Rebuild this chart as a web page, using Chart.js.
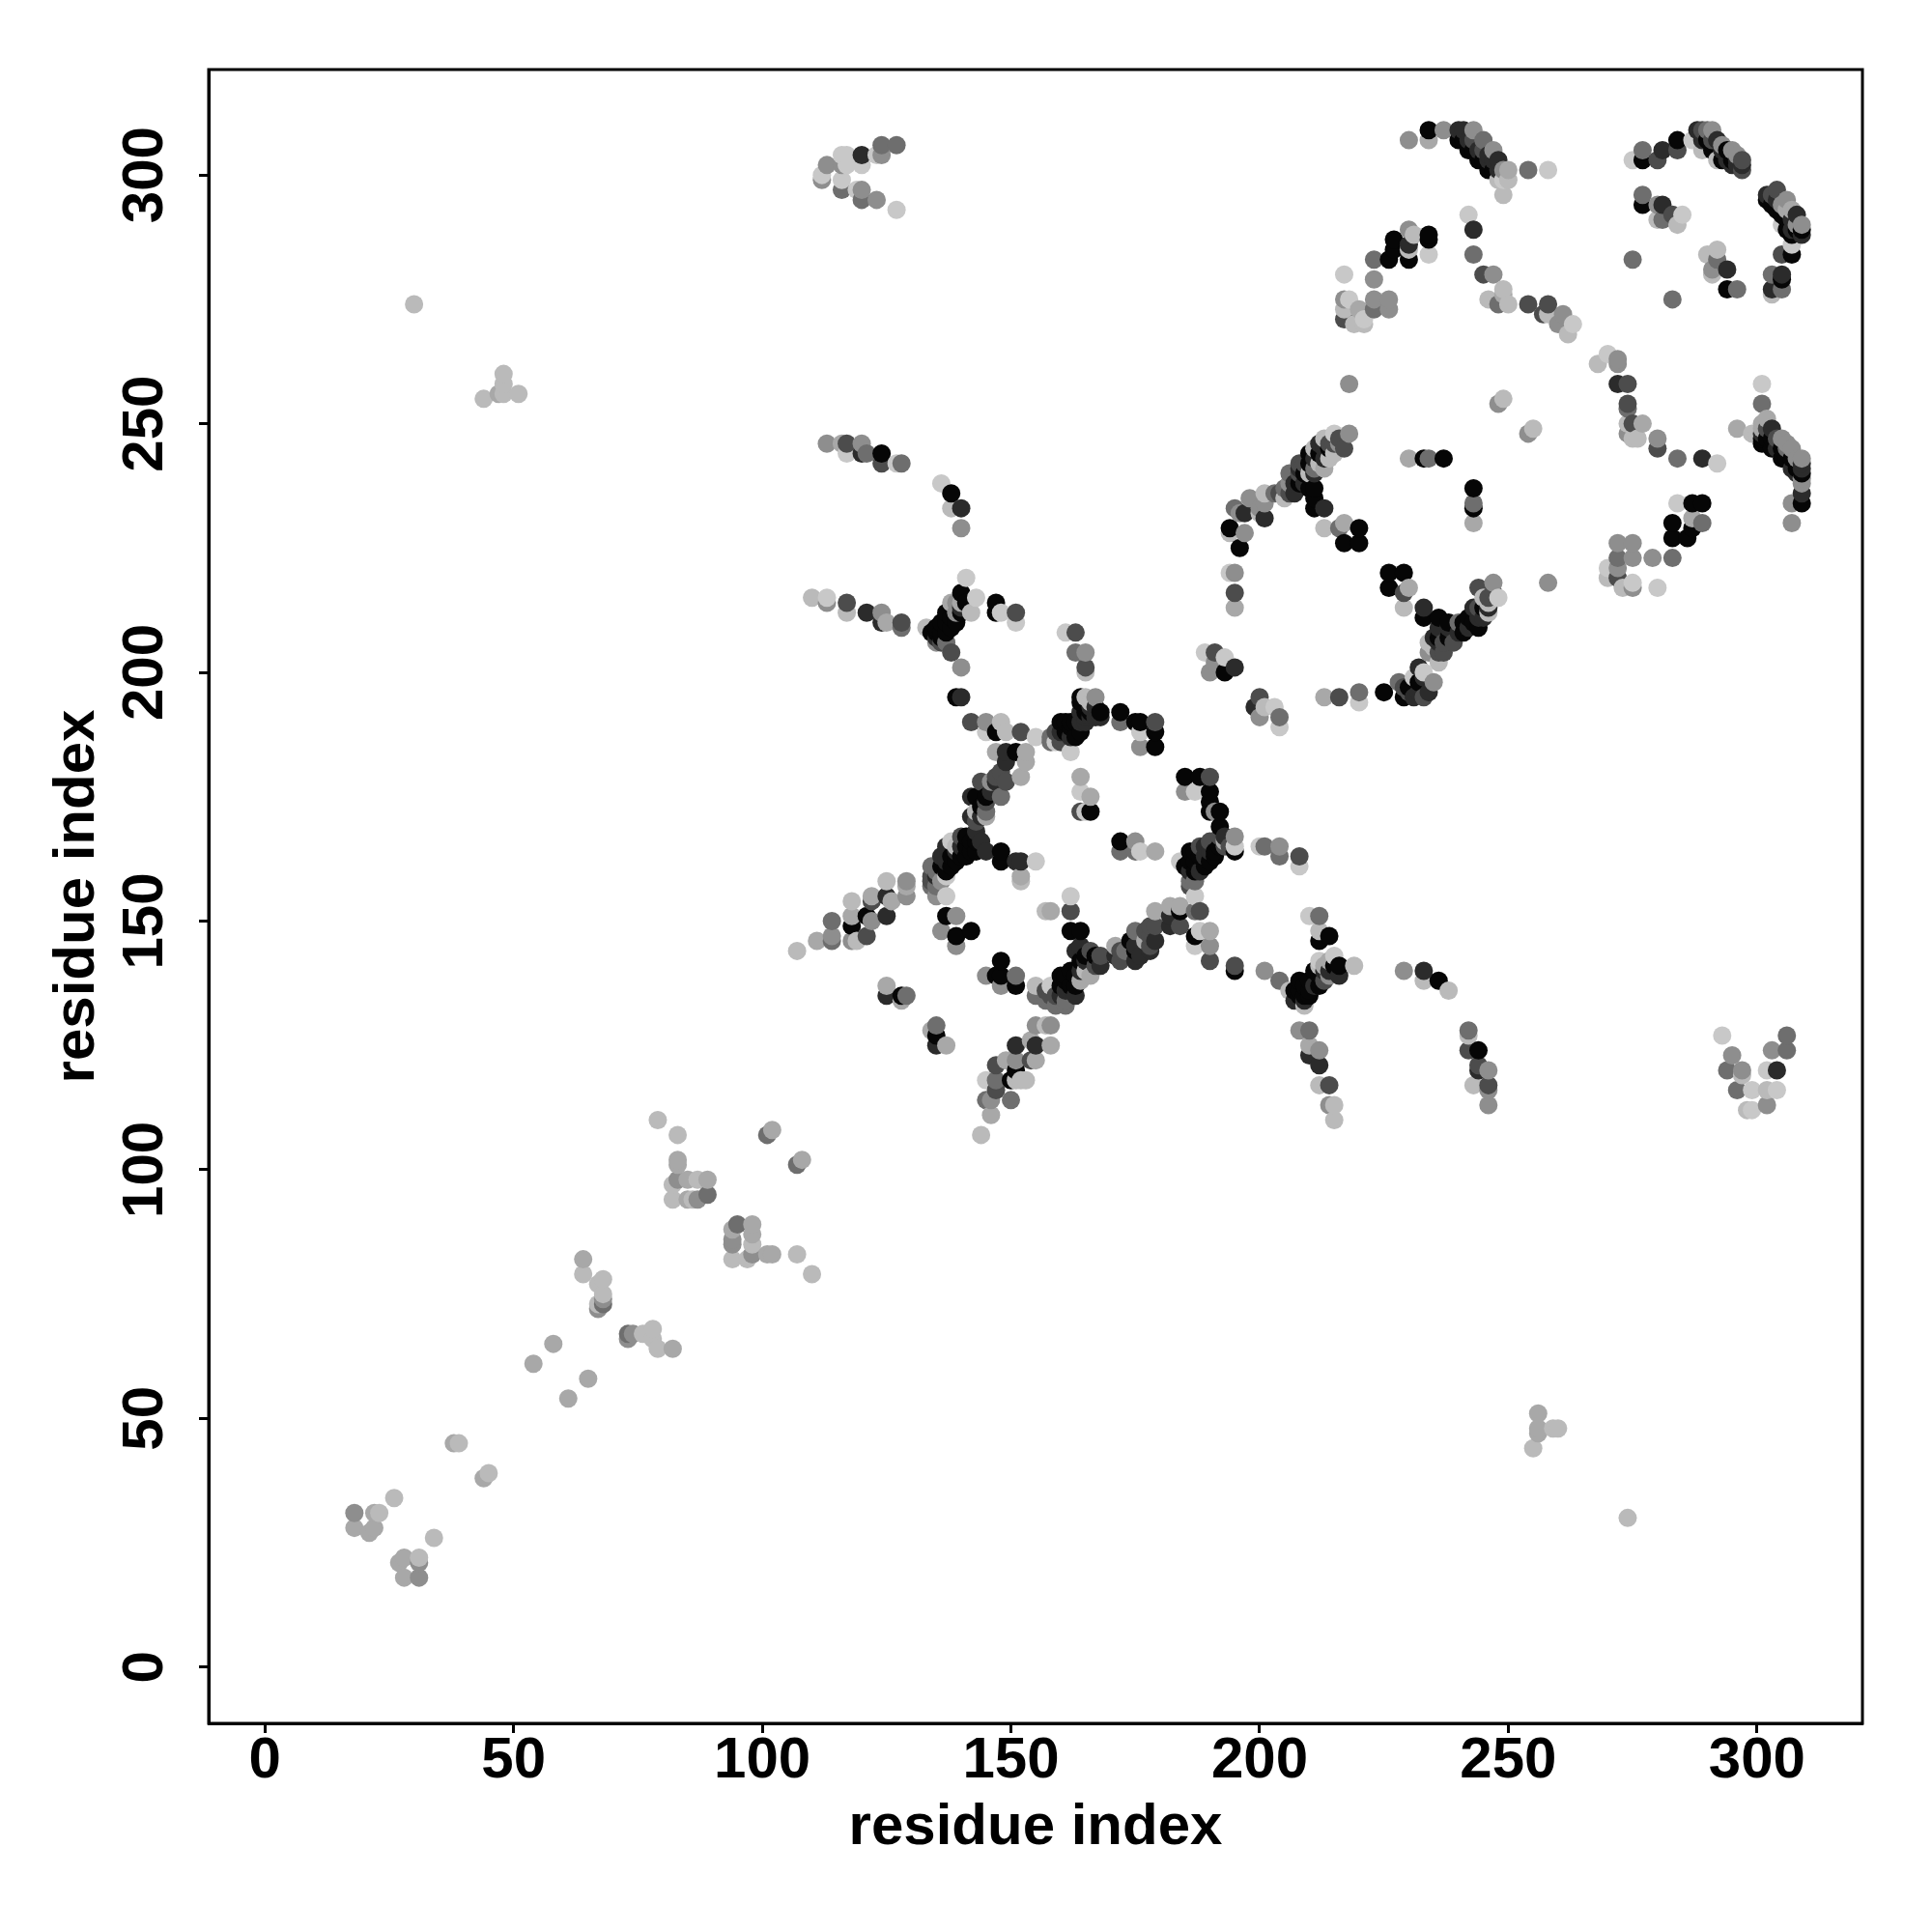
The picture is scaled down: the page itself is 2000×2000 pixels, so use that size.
<!DOCTYPE html>
<html>
<head>
<meta charset="utf-8">
<title>residue contact map</title>
<script src="https://cdn.jsdelivr.net/npm/chart.js@4"></script>
<style>
  html, body { margin: 0; padding: 0; background: #fff; }
</style>
</head>
<body>
<canvas id="contactMap" width="2000" height="2000"></canvas>
<script>
// contacts: [residue i, residue j, shade level]
const lowerDiagonal = [
  [18,31,4],[22,31,5],[23,31,6],[18,28,5],[21,27,5],[22,28,5],[26,34,6],[34,26,6],
  [27,21,5],[28,22,5],[31,22,6],[31,21,4],[28,18,5],[31,18,4],
  [38,45,5],[39,45,6],[44,38,5],[45,39,6],
  [54,61,5],[58,65,5],[61,54,5],[65,58,5],
  [64,82,5],[64,79,6],[67,77,6],[68,78,6],[68,75,6],[68,74,4],[68,73,3],[67,73,6],[67,72,4],
  [73,67,3],[73,66,4],[74,67,4],[76,67,6],[78,68,6],[78,66,6],[79,64,6],[82,64,5],
  [79,110,6],[83,107,6],[83,102,5],[83,101,5],[82,97,6],[83,98,4],[85,98,5],[87,98,6],[89,98,5],
  [82,94,6],[85,94,5],[86,94,6],[87,94,4],[89,95,3],
  [101,107,3],[102,108,5],[107,101,3],[108,102,5],
  [94,88,5],[94,86,4],[94,85,4],[94,82,6],[95,89,3],[98,89,5],[98,87,5],[98,85,6],[97,82,6],[98,83,4],
  [101,83,5],[102,83,5],[107,83,6],[110,79,6]
];

const upperLeftArcs = [
  [30,274,6],[44,255,6],[47,256,5],[48,260,6],[48,258,6],[48,256,6],[51,256,6],
  [112,299,4],[112,300,7],[113,302,4],[116,304,7],[117,304,7],[116,302,4],[117,302,7],[116,297,3],[116,299,7],
  [119,297,7],[120,297,4],[120,295,3],[123,295,4],[120,304,1],[120,302,7],[123,304,7],[124,304,4],[124,306,3],
  [127,306,3],[127,293,7],
  [113,246,4],[116,246,5],[117,246,2],[117,244,7],[120,246,4],[120,244,1],[121,244,3],[124,244,0],[124,242,2],
  [127,242,7],[128,242,3],
  [136,238,7],[138,236,0],[138,233,6],[140,233,1],[140,229,4],
  [110,215,6],[113,215,7],[113,214,4],[117,214,2],[117,212,6],[121,212,1],[124,212,4],[124,210,1],[125,210,5],
  [128,210,2],[128,209,3],[133,209,6],[135,209,0],[135,208,0],[136,210,0],[137,212,0],[137,208,0],[135,206,4],
  [134,208,0],[135,207,1],[136,207,0],[136,208,0],[137,210,0],[138,209,0],[137,206,3],[138,211,0],[139,212,4],
  [139,210,0],[140,213,1],[136,206,2],[141,214,0],
  [138,204,2],[140,201,4],[141,219,7],[140,216,0],[140,214,5],[143,215,7],[142,212,6],[139,214,4],[138,214,5],[140,212,0],
  [147,214,0],[147,212,0],[148,212,7],[151,212,2],[151,210,7],
  [161,208,7],[163,208,2],[163,204,3],[165,204,4],[165,201,2],[165,200,6]
];

const centralStar = [
  [107,144,6],[111,146,5],[114,150,3],[114,147,4],[114,146,3],[118,154,6],[118,151,5],[118,149,0],[118,146,4],[119,146,6],
  [122,155,5],[122,154,2],[121,151,0],[121,147,2],[122,150,4],[125,158,6],[125,155,1],[126,154,5],[125,151,1],
  [129,158,4],[129,155,4],[129,157,5],
  [134,161,3],[134,159,2],[134,157,3],[135,155,4],[137,155,7],[137,159,7],[136,163,1],[137,165,1],[137,160,0],
  [138,166,7],[139,162,0],[140,167,2],[141,165,0],[143,168,1],[145,164,1],[148,164,0],[148,162,0],[151,162,1],[152,162,1],
  [138,163,0],[139,164,1],[140,163,0],[140,165,1],[141,167,0],[142,166,0],[143,166,0],[143,164,0],[144,166,1],[137,162,1],
  [136,161,0],[138,161,0],[135,159,1],[135,160,3],[134,158,2],[141,163,0],[139,165,6],[142,164,0],[136,158,4],[135,157,3],
  [155,162,7],[152,159,5],[152,158,6],
  [142,171,1],[145,171,5],[143,172,6],[142,175,1],[145,175,0],[143,175,0],[148,175,3],[145,174,2],[144,178,2],[146,178,4],
  [143,170,2],[144,173,0],[144,171,1],[145,172,3],[146,176,1],[147,178,1],[147,179,2],[148,180,2],
  [149,178,2],[152,179,5],[149,182,1],[149,184,1],[153,182,5],[153,184,5],[151,184,0],[147,184,5],
  [142,190,2],[145,190,4],[148,190,6],[145,188,7],[147,188,0],[149,188,6],[152,188,2],[155,187,7],[158,187,3],[160,187,2],
  [139,195,0],[140,195,1],
  [162,184,7],[159,186,7],[161,188,0],[162,190,0],[160,188,1],[164,188,0],[164,194,0],[165,191,1],[167,195,4],[165,195,6],
  [158,186,3],[159,188,2],[160,190,0],[161,190,0],[162,189,0],[163,190,0],[163,187,0],[164,192,1],[165,192,0],[165,190,1],
  [166,192,0],[166,193,1],[164,190,1],[164,195,0],[167,193,1],[166,194,6],[168,191,1],[160,186,2],[162,187,1],
  [166,191,1],[167,191,1],[168,192,0],[172,192,0],[172,190,3],[175,190,0],[176,190,0],[179,190,2],[179,188,0],[179,185,0],
  [176,185,4],[176,188,7],
  [164,179,5],[164,176,7],[166,175,5],[166,172,0],[164,172,2],[165,172,7],
  [172,166,0],[172,164,3],[175,166,4],[176,164,7],[175,164,3],[179,164,5],
  [185,179,0],[188,179,0],[190,179,2],[185,176,4],[187,176,7],[190,176,0],[190,174,0],[192,172,0],[190,172,0],[191,172,4],
  [192,169,0],[195,167,4],[195,165,7],[195,164,0],[193,166,5],[190,166,2],[189,163,1],[191,164,0],[187,164,0],[189,161,0],
  [187,162,0],[188,163,0],[188,160,1],[188,165,2],[189,165,1],[190,164,1],[190,162,0],[191,163,0],[192,165,0],[192,167,2],
  [193,167,1],[193,165,2],[194,165,2],[186,158,3],[187,160,0],[186,157,2],[185,161,0],[186,164,0],
  [186,162,0],[184,162,7],[186,160,1],[187,158,3],
  [187,155,7],[188,152,2],[187,152,3],[184,153,5],[184,152,0],[182,153,5],[179,152,5],[184,149,2],[182,149,1],[178,149,2],
  [188,148,7],[190,148,5],[187,147,0],[190,145,4],[187,145,7],[190,142,2],[195,141,2],[195,140,0],
  [175,148,3],[178,145,2],[177,146,5],[175,144,0],[175,142,1],[178,144,1],[171,145,5],[172,142,2],[171,143,1],[168,143,2],
  [163,144,1],[165,142,1],[166,144,2],[167,143,0],[168,141,1],[172,144,2],[173,144,3],[174,146,0],[175,145,1],[176,143,1],
  [177,148,2],[178,147,2],[179,146,1],[179,149,2],[182,151,1],
  [167,141,2],[165,143,0],[164,142,0],[166,139,5],[164,145,1],[161,139,0],[163,137,0],[161,136,1],[161,134,3],[158,137,7],
  [157,134,3],[159,135,2],[160,135,1],[160,137,0],[161,138,0],[162,137,0],[162,140,0],[163,139,0],[164,140,1],[164,138,5],
  [165,140,6],[159,133,3],[161,133,3],[163,135,1],[158,135,2],[157,136,2],[160,139,0],
  [158,134,3],[155,137,6],[155,135,3],
  [162,155,7],[162,152,2],[158,152,5],[157,152,6],[162,148,0],[164,148,0],
  [137,151,0],[139,151,4],[136,148,4],[139,147,0],[139,145,4],[142,148,0],
  [148,142,0],[145,139,4],[147,139,0],[148,139,0],[151,139,3],[148,137,4],[151,137,0],
  [125,137,5],[125,135,1],[128,135,0],[129,135,3],[128,134,5],
  [135,129,3],[135,127,0],[134,128,5],[135,125,1],[137,125,5],
  [155,129,4],[157,129,6],[158,129,4],[158,125,5],[155,125,1],[154,126,5],[151,125,1],[147,121,2],[151,122,4],[149,122,5],
  [151,120,0],[155,122,5],[154,122,2],[153,118,6],[152,118,6],[150,118,0],[151,118,6],[147,118,3],[145,118,7],[147,116,2],
  [146,114,4],[150,114,3],[145,114,3],[146,111,5],[144,107,6]
];

const rightOfStar = [
  [200,165,7],[201,165,3],[204,165,4],[204,163,3],[208,163,2],[208,161,7],
  [210,151,7],[212,151,3],[212,148,6],[212,146,0],[214,147,0],
  [201,140,4],[204,138,3],[206,136,6],[208,138,0],[208,135,0],[209,135,0],[209,133,6],[211,140,0],[212,137,0],[212,142,7],
  [207,136,0],[208,136,0],[209,137,0],[209,134,1],[210,136,0],[210,138,0],[211,137,1],[212,139,0],[213,138,2],[214,140,1],
  [215,141,0],[214,142,5],[212,141,6],[207,134,1],[210,135,0],
  [213,140,1],[214,139,4],[213,141,5],[215,143,7],[216,141,0],[216,139,1],[219,141,6],
  [229,140,4],[233,140,1],[233,138,6],[236,138,0],[238,136,6],
  [208,128,4],[210,128,3],[210,125,5],[210,123,1],[212,124,4],[212,121,1],[212,117,6],[214,117,2],[214,113,4],[215,113,6],[215,110,6],
  [242,128,3],[242,127,6],[242,124,2],[244,124,0],[244,121,2],[246,120,4],[244,120,1],[243,117,6],[246,117,2],[246,116,4],[246,113,4],
  [293,127,7],[295,123,4],[294,120,3],[297,120,4],[297,119,6],[296,116,3],[299,116,7],[299,112,7],[298,112,6],[302,113,4],
  [302,116,6],[304,116,7],[302,120,7],[304,120,1],[303,124,4],[306,124,3],[306,127,3],
  [255,44,6],[256,48,5],[256,51,5],[256,47,5],[259,48,6],[260,48,6],[274,30,6]
];

const middleRing = [
  [218,258,4],[218,248,4],[217,245,2],[215,248,7],[214,246,2],[215,244,6],[212,246,1],[213,245,1],[214,243,6],[211,245,6],
  [213,247,6],[213,243,1],[214,245,0],[215,246,2],[216,247,2],[216,246,4],[212,244,0],[211,240,1],[209,240,0],[209,238,1],
  [208,238,0],[206,236,2],[207,236,1],[206,240,3],[208,240,2],[204,236,2],[205,237,3],[209,242,2],[210,240,6],[212,242,6],[213,241,5],
  [210,244,0],[210,242,0],[211,243,1],[211,241,3],[208,242,2],[208,241,1],[206,238,4],[207,238,1],[210,237,0],[211,237,0],
  [211,235,0],[205,235,6],[203,236,3],[201,236,6],[201,234,4],[200,233,4],[198,235,4],[195,233,3],[197,232,1],[196,232,4],
  [200,232,6],[201,231,1],[194,229,0],[197,228,4],[196,225,0],[194,228,6],
  [211,233,0],[213,233,1],[213,229,6],[216,229,3],[217,230,5],[220,229,0],[217,226,0],[220,226,0],
  [230,243,5],[233,243,0],[234,243,3],[237,243,0],[243,237,0],[243,234,3],[243,233,0],[243,230,5],
  [248,254,4],[249,255,6],[254,248,4],[255,249,6],
  [226,220,0],[229,220,0],[226,217,0],[230,217,5],[229,216,2],[229,213,6],[233,213,1],[233,211,0],[236,211,0],[236,209,1],
  [235,207,1],[234,206,6],[237,206,2],[240,210,3],[242,209,1],[243,213,1],[245,211,1],[246,214,6],[244,217,2],[247,218,4],
  [238,207,0],[238,209,1],[239,206,2],[240,208,1],[241,208,0],[241,210,0],[242,211,0],[243,210,0],[244,209,0],[244,211,1],
  [244,213,2],[245,213,0],[246,215,2],[245,215,6],[247,216,2],[238,210,0],[236,207,0],[235,205,6],[234,204,4],[236,206,1],
  [237,204,2],[233,199,1],[231,199,7],[232,196,1],[230,197,0],[229,197,2],[234,196,1],[231,195,1],[230,196,2],
  [248,215,7],[246,213,1],[246,212,6],[236,204,2],[236,202,6],[232,201,1],[233,200,7],[232,198,0],[235,198,4],[233,195,2],
  [228,198,3],[229,195,0],[225,196,0],[220,196,3],[220,194,7],[216,195,2],[213,195,5],[258,218,4],
  [195,220,4],[194,220,7],[195,216,2],[195,213,5],
  [189,204,7],[191,204,2],[193,203,7],[190,200,4],[193,200,0],[195,201,1],[191,202,4],
  [200,195,2],[199,193,1],[203,193,7],[200,191,4],[204,191,3],[204,189,7],[201,193,6]
];

const topRightBands = [
  [230,307,4],[234,307,5],[234,309,0],[237,309,4],[240,309,1],[243,309,4],[240,307,0],[242,305,0],[244,303,0],[246,301,0],
  [241,309,1],[242,307,1],[243,307,2],[244,305,1],[245,305,2],[246,304,1],[247,303,1],[248,301,1],[249,301,4],[247,301,0],
  [245,303,0],[243,305,0],[241,307,0],[249,299,7],[250,299,6],
  [245,307,3],[246,303,1],[247,305,4],[248,303,1],[248,299,6],[250,301,5],[254,301,3],[258,301,7],[249,296,6],
  [275,303,7],[277,305,3],[277,303,0],[280,303,2],[281,305,1],[284,307,0],[284,305,2],[287,307,7],[288,309,1],[290,309,3],
  [289,309,2],[291,309,4],[290,307,0],[291,307,2],[293,305,1],[294,305,0],[294,303,1],[295,303,0],[296,303,1],[296,304,4],
  [295,302,1],[297,302,1],[297,301,2],[289,305,6],[292,303,6],
  [289,307,1],[291,305,0],[292,307,1],[293,306,4],[293,303,0],[295,305,4],[296,302,1],[297,303,2],
  [302,296,1],[304,297,2],[303,294,0],[306,295,4],[305,292,0],[307,293,5],[308,292,1],[306,289,0],[309,290,4],[309,288,1],
  [302,295,0],[303,296,2],[304,295,1],[304,293,0],[305,294,4],[306,291,0],[307,291,1],[308,289,0],[309,289,0],[307,288,0],
  [308,290,4],[306,293,5],[305,290,7],[307,289,1],
  [307,286,7],[307,284,0],[305,284,2],[305,280,1],[303,280,3],[305,279,0],[305,277,3],[303,277,1],[303,276,6],
  [277,296,3],[277,294,0],[280,294,4],[281,294,1],[281,291,3],[280,291,6],[285,292,7],[284,290,6],[283,292,2],
  [292,285,6],[290,284,6],[292,283,3],[294,281,1],[291,281,4],[291,280,6],[294,277,0],[296,277,3],[275,283,3],[283,275,3],
  [234,288,0],[234,287,0],[230,289,4],[227,287,0],[227,285,0],[234,284,7],[230,286,1],[231,288,6],[230,285,6],
  [223,283,3],[226,283,0],[230,283,0],[217,280,7],[223,279,4],
  [243,289,1],[242,292,7],[243,284,3],[245,280,2],[247,280,4],[249,277,6],[249,276,5],[246,275,6],[248,274,3],[250,274,6],
  [254,274,2],[258,274,2],[258,272,6],[257,272,2],[261,272,4],[263,270,7],[262,268,6],[260,270,4],
  [217,275,4],[218,275,7],[217,273,6],[217,271,2],[219,270,6],[221,270,6],[220,273,5],[223,275,4],[223,273,3],[226,275,4],[226,273,4],[221,271,7],
  [270,264,7],[268,262,6],[272,262,4],[272,263,4],[274,258,2],[272,258,1],[274,254,2],[274,253,3],[274,250,6],[277,250,5],
  [275,250,2],[274,248,4],[275,247,6],[276,247,6],[280,247,4],[280,245,2],[284,243,3],[289,243,1],[292,242,7],
  [301,258,7],[301,254,3],[296,249,5],[301,250,5],[299,248,6],[303,249,1],[305,247,4],[306,245,3],[309,243,4],[309,241,1],
  [302,247,0],[302,249,2],[303,247,0],[304,245,1],[304,247,2],[305,245,0],[306,243,0],[306,246,4],[307,245,4],[307,243,0],
  [308,241,0],[308,243,4],[309,242,1],[308,240,1],[309,239,4],[300,248,6],[301,249,5],[302,251,5],[301,246,0],
  [309,240,0],[309,238,4],[309,236,1],[309,234,0],[307,234,4],[307,230,4],[301,247,0],[303,245,0],[305,243,0],[307,241,1],[301,248,1],
  [284,234,7],[287,234,0],[289,234,0],[289,230,3],[287,231,5],[283,230,0],[287,229,0],[283,227,0],[286,227,0],[283,223,3],
  [279,223,4],[275,226,4],[272,226,4],[272,223,3],[275,223,4],
  [270,221,7],[270,219,6],[272,219,2],[273,217,6],[275,218,7],[272,221,4],[280,217,7],[275,217,4]
];

const shadeColors = ['#060606', '#2b2b2b', '#4c4c4c', '#6e6e6e', '#8e8e8e', '#a8a8a8', '#bababa', '#c8c8c8'];
const tickValues = [0, 50, 100, 150, 200, 250, 300];

// later rows are painted over earlier ones, same as in the picture
const contacts = [...lowerDiagonal, ...upperLeftArcs, ...centralStar, ...rightOfStar, ...middleRing, ...topRightBands]
    .sort((a, b) => a[0] - b[0] || a[1] - b[1]);

const axisFont = { family: '"Liberation Sans", Arial, sans-serif', size: 60, weight: 'bold' };

// box around the plot, the axes only draw two sides
const plotBox = {
    id: 'plotBox',
    afterDraw(chart) {
        const { ctx, chartArea: a } = chart;
        ctx.save();
        ctx.strokeStyle = '#000';
        ctx.lineWidth = 3;
        ctx.strokeRect(a.left, a.top, a.right - a.left, a.bottom - a.top);
        ctx.restore();
    }
};

function axisOptions(titlePadding) {
    return {
        type: 'linear',
        min: -11.3,
        max: 321.2,
        afterBuildTicks: scale => { scale.ticks = tickValues.map(v => ({ value: v })); },
        grid: { drawOnChartArea: false, drawTicks: true, tickLength: 10, tickColor: '#000', tickWidth: 3 },
        border: { display: true, color: '#000', width: 3 },
        title: { display: true, text: 'residue index', color: '#000', font: axisFont, padding: titlePadding }
    };
}

const xAxis = axisOptions({ top: 0, bottom: 72 });
xAxis.afterFit = scale => { scale.height = 216; };
xAxis.ticks = { color: '#000', font: axisFont, maxRotation: 0, padding: -7, autoSkip: false };

const yAxis = axisOptions({ top: 44, bottom: 0 });
yAxis.afterFit = scale => { scale.width = 216; };
yAxis.ticks = { color: '#000', font: axisFont, minRotation: 90, maxRotation: 90, crossAlign: 'center', padding: 4, autoSkip: false };

new Chart(document.getElementById('contactMap').getContext('2d'), {
    type: 'scatter',
    data: {
        datasets: [{
            data: contacts.map(c => ({ x: c[0], y: c[1] })),
            pointBackgroundColor: contacts.map(c => shadeColors[c[2]]),
            pointBorderWidth: 0,
            pointRadius: 9.5
        }]
    },
    options: {
        responsive: false,
        animation: false,
        layout: { padding: { top: 72, right: 72, bottom: 0, left: 0 } },
        plugins: { legend: { display: false }, tooltip: { enabled: false } },
        scales: { x: xAxis, y: yAxis }
    },
    plugins: [plotBox]
});
</script>
</body>
</html>
